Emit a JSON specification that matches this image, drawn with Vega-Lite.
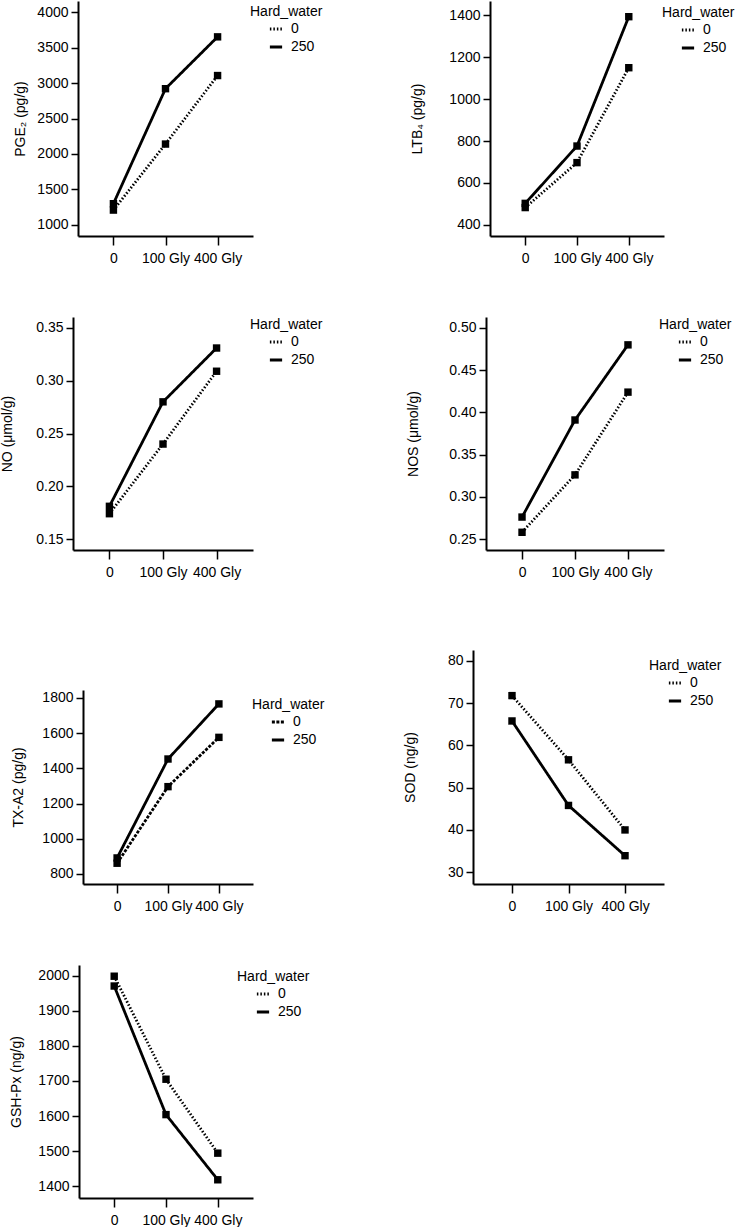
{
  "$schema": "https://vega.github.io/schema/vega-lite/v6.json",
  "padding": {"left": 0, "top": 1, "right": 0, "bottom": 0},
  "background": "white",
  "data": {"values": [
    {"panel": "PGE2", "dose": "0", "hw": "0", "value": 1210},
    {"panel": "PGE2", "dose": "100 Gly", "hw": "0", "value": 2140},
    {"panel": "PGE2", "dose": "400 Gly", "hw": "0", "value": 3105},
    {"panel": "PGE2", "dose": "0", "hw": "250", "value": 1300},
    {"panel": "PGE2", "dose": "100 Gly", "hw": "250", "value": 2920},
    {"panel": "PGE2", "dose": "400 Gly", "hw": "250", "value": 3650},
    {"panel": "LTB4", "dose": "0", "hw": "0", "value": 483},
    {"panel": "LTB4", "dose": "100 Gly", "hw": "0", "value": 697},
    {"panel": "LTB4", "dose": "400 Gly", "hw": "0", "value": 1149},
    {"panel": "LTB4", "dose": "0", "hw": "250", "value": 503},
    {"panel": "LTB4", "dose": "100 Gly", "hw": "250", "value": 776},
    {"panel": "LTB4", "dose": "400 Gly", "hw": "250", "value": 1392},
    {"panel": "NO", "dose": "0", "hw": "0", "value": 0.174},
    {"panel": "NO", "dose": "100 Gly", "hw": "0", "value": 0.240},
    {"panel": "NO", "dose": "400 Gly", "hw": "0", "value": 0.309},
    {"panel": "NO", "dose": "0", "hw": "250", "value": 0.181},
    {"panel": "NO", "dose": "100 Gly", "hw": "250", "value": 0.280},
    {"panel": "NO", "dose": "400 Gly", "hw": "250", "value": 0.331},
    {"panel": "NOS", "dose": "0", "hw": "0", "value": 0.258},
    {"panel": "NOS", "dose": "100 Gly", "hw": "0", "value": 0.326},
    {"panel": "NOS", "dose": "400 Gly", "hw": "0", "value": 0.424},
    {"panel": "NOS", "dose": "0", "hw": "250", "value": 0.276},
    {"panel": "NOS", "dose": "100 Gly", "hw": "250", "value": 0.391},
    {"panel": "NOS", "dose": "400 Gly", "hw": "250", "value": 0.480},
    {"panel": "TXA2", "dose": "0", "hw": "0", "value": 861},
    {"panel": "TXA2", "dose": "100 Gly", "hw": "0", "value": 1296},
    {"panel": "TXA2", "dose": "400 Gly", "hw": "0", "value": 1576},
    {"panel": "TXA2", "dose": "0", "hw": "250", "value": 891},
    {"panel": "TXA2", "dose": "100 Gly", "hw": "250", "value": 1453},
    {"panel": "TXA2", "dose": "400 Gly", "hw": "250", "value": 1766},
    {"panel": "SOD", "dose": "0", "hw": "0", "value": 71.8},
    {"panel": "SOD", "dose": "100 Gly", "hw": "0", "value": 56.6},
    {"panel": "SOD", "dose": "400 Gly", "hw": "0", "value": 40.0},
    {"panel": "SOD", "dose": "0", "hw": "250", "value": 65.8},
    {"panel": "SOD", "dose": "100 Gly", "hw": "250", "value": 45.8},
    {"panel": "SOD", "dose": "400 Gly", "hw": "250", "value": 33.9},
    {"panel": "GSH", "dose": "0", "hw": "0", "value": 1999},
    {"panel": "GSH", "dose": "100 Gly", "hw": "0", "value": 1705},
    {"panel": "GSH", "dose": "400 Gly", "hw": "0", "value": 1494},
    {"panel": "GSH", "dose": "0", "hw": "250", "value": 1971},
    {"panel": "GSH", "dose": "100 Gly", "hw": "250", "value": 1604},
    {"panel": "GSH", "dose": "400 Gly", "hw": "250", "value": 1418}
  ]},
  "spacing": 78,
  "resolve": {"scale": {"strokeDash": "independent", "x": "independent", "y": "independent"}, "legend": {"strokeDash": "independent"}},
  "hconcat": [
    {
      "spacing": 52,
      "align": "none",
      "resolve": {"scale": {"strokeDash": "independent", "x": "independent", "y": "independent"}, "legend": {"strokeDash": "independent"}},
      "vconcat": [
        {
          "width": 175, "height": 235,
          "transform": [{"filter": "datum.panel === 'PGE2'"}],
          "encoding": {
            "x": {"field": "dose", "type": "nominal", "sort": ["0", "100 Gly", "400 Gly"], "scale": {"type": "point", "padding": 0.68}, "axis": {"title": null, "labelAngle": 0, "tickSize": 9, "labelPadding": 6}},
            "y": {"field": "value", "type": "quantitative", "scale": {"domain": [845, 4155], "nice": false, "zero": false}, "axis": {"title": "PGE₂ (pg/g)", "values": [1000, 1500, 2000, 2500, 3000, 3500, 4000], "format": "d", "titlePadding": 9}}
          },
          "layer": [
            {"mark": {"type": "line", "color": "black", "strokeWidth": 2.8},
             "encoding": {"strokeDash": {"field": "hw", "type": "nominal", "title": "Hard_water", "scale": {"domain": ["0", "250"], "range": [[1.5, 2], [1, 0]]}, "legend": {"legendX": 172, "legendY": 4}}}},
            {"mark": {"type": "point", "shape": "square", "filled": true, "color": "black", "size": 55, "opacity": 1}}
          ]
        },
        {
          "width": 175, "height": 233,
          "transform": [{"filter": "datum.panel === 'NO'"}],
          "encoding": {
            "x": {"field": "dose", "type": "nominal", "sort": ["0", "100 Gly", "400 Gly"], "scale": {"type": "point", "padding": 0.68, "range": [-5, 175]}, "axis": {"title": null, "labelAngle": 0, "tickSize": 9, "labelPadding": 6}},
            "y": {"field": "value", "type": "quantitative", "scale": {"domain": [0.1396, 0.3604], "nice": false, "zero": false}, "axis": {"title": "NO (μmol/g)", "values": [0.15, 0.2, 0.25, 0.3, 0.35], "format": ".2f", "titlePadding": 21, "offset": 5}}
          },
          "layer": [
            {"mark": {"type": "line", "color": "black", "strokeWidth": 2.8},
             "encoding": {"strokeDash": {"field": "hw", "type": "nominal", "title": "Hard_water", "scale": {"domain": ["0", "250"], "range": [[1.5, 2], [1, 0]]}, "legend": {"legendX": 172, "legendY": 1}}}},
            {"mark": {"type": "point", "shape": "square", "filled": true, "color": "black", "size": 55, "opacity": 1}}
          ]
        },
        {
          "width": 175, "height": 194,
          "title": {"text": " ", "fontSize": 1, "offset": 58},
          "transform": [{"filter": "datum.panel === 'TXA2'"}],
          "encoding": {
            "x": {"field": "dose", "type": "nominal", "sort": ["0", "100 Gly", "400 Gly"], "scale": {"type": "point", "padding": 0.67, "range": [5, 175]}, "axis": {"title": null, "labelAngle": 0, "tickSize": 9, "labelPadding": 6}},
            "y": {"field": "value", "type": "quantitative", "scale": {"domain": [743, 1845], "nice": false, "zero": false}, "axis": {"title": "TX-A2 (pg/g)", "values": [800, 1000, 1200, 1400, 1600, 1800], "format": "d", "titlePadding": 16, "offset": -5}}
          },
          "layer": [
            {"mark": {"type": "line", "color": "black", "strokeWidth": 2.8},
             "encoding": {"strokeDash": {"field": "hw", "type": "nominal", "title": "Hard_water", "scale": {"domain": ["0", "250"], "range": [[3, 1.5], [1, 0]]}, "legend": {"legendX": 174, "legendY": 8}}}},
            {"mark": {"type": "point", "shape": "square", "filled": true, "color": "black", "size": 55, "opacity": 1}}
          ]
        },
        {
          "width": 175, "height": 233,
          "transform": [{"filter": "datum.panel === 'GSH'"}],
          "encoding": {
            "x": {"field": "dose", "type": "nominal", "sort": ["0", "100 Gly", "400 Gly"], "scale": {"type": "point", "padding": 0.68, "range": [1, 175]}, "axis": {"title": null, "labelAngle": 0, "tickSize": 9, "labelPadding": 6}},
            "y": {"field": "value", "type": "quantitative", "scale": {"domain": [1366, 2031], "nice": false, "zero": false}, "axis": {"title": "GSH-Px (ng/g)", "values": [1400, 1500, 1600, 1700, 1800, 1900, 2000], "format": "d", "titlePadding": 14, "offset": -1}}
          },
          "layer": [
            {"mark": {"type": "line", "color": "black", "strokeWidth": 2.8},
             "encoding": {"strokeDash": {"field": "hw", "type": "nominal", "title": "Hard_water", "scale": {"domain": ["0", "250"], "range": [[1.5, 2], [1, 0]]}, "legend": {"legendX": 159, "legendY": 5}}}},
            {"mark": {"type": "point", "shape": "square", "filled": true, "color": "black", "size": 55, "opacity": 1}}
          ]
        }
      ]
    },
    {
      "spacing": 52,
      "align": "none",
      "resolve": {"scale": {"strokeDash": "independent", "x": "independent", "y": "independent"}, "legend": {"strokeDash": "independent"}},
      "vconcat": [
        {
          "width": 178, "height": 235,
          "transform": [{"filter": "datum.panel === 'LTB4'"}],
          "encoding": {
            "x": {"field": "dose", "type": "nominal", "sort": ["0", "100 Gly", "400 Gly"], "scale": {"type": "point", "padding": 0.68, "range": [4, 178]}, "axis": {"title": null, "labelAngle": 0, "tickSize": 9, "labelPadding": 6}},
            "y": {"field": "value", "type": "quantitative", "scale": {"domain": [347.6, 1466.7], "nice": false, "zero": false}, "axis": {"title": "LTB₄ (pg/g)", "values": [400, 600, 800, 1000, 1200, 1400], "format": "d", "titlePadding": 24, "offset": -4}}
          },
          "layer": [
            {"mark": {"type": "line", "color": "black", "strokeWidth": 2.8},
             "encoding": {"strokeDash": {"field": "hw", "type": "nominal", "title": "Hard_water", "scale": {"domain": ["0", "250"], "range": [[1.5, 2], [1, 0]]}, "legend": {"legendX": 176, "legendY": 5}}}},
            {"mark": {"type": "point", "shape": "square", "filled": true, "color": "black", "size": 55, "opacity": 1}}
          ]
        },
        {
          "width": 178, "height": 233,
          "transform": [{"filter": "datum.panel === 'NOS'"}],
          "encoding": {
            "x": {"field": "dose", "type": "nominal", "sort": ["0", "100 Gly", "400 Gly"], "scale": {"type": "point", "padding": 0.68}, "axis": {"title": null, "labelAngle": 0, "tickSize": 9, "labelPadding": 6}},
            "y": {"field": "value", "type": "quantitative", "scale": {"domain": [0.237, 0.513], "nice": false, "zero": false}, "axis": {"title": "NOS (μmol/g)", "values": [0.25, 0.3, 0.35, 0.4, 0.45, 0.5], "format": ".2f", "titlePadding": 28}}
          },
          "layer": [
            {"mark": {"type": "line", "color": "black", "strokeWidth": 2.8},
             "encoding": {"strokeDash": {"field": "hw", "type": "nominal", "title": "Hard_water", "scale": {"domain": ["0", "250"], "range": [[1.5, 2], [1, 0]]}, "legend": {"legendX": 173, "legendY": 1}}}},
            {"mark": {"type": "point", "shape": "square", "filled": true, "color": "black", "size": 55, "opacity": 1}}
          ]
        },
        {
          "width": 178, "height": 234,
          "title": {"text": " ", "fontSize": 1, "offset": 18},
          "transform": [{"filter": "datum.panel === 'SOD'"}],
          "encoding": {
            "x": {"field": "dose", "type": "nominal", "sort": ["0", "100 Gly", "400 Gly"], "scale": {"type": "point", "padding": 0.69, "range": [-13, 178]}, "axis": {"title": null, "labelAngle": 0, "tickSize": 9, "labelPadding": 6}},
            "y": {"field": "value", "type": "quantitative", "scale": {"domain": [27.2, 82.6], "nice": false, "zero": false}, "axis": {"title": "SOD (ng/g)", "values": [30, 40, 50, 60, 70, 80], "titlePadding": 30, "offset": 13}}
          },
          "layer": [
            {"mark": {"type": "line", "color": "black", "strokeWidth": 2.8},
             "encoding": {"strokeDash": {"field": "hw", "type": "nominal", "title": "Hard_water", "scale": {"domain": ["0", "250"], "range": [[1.5, 2], [1, 0]]}, "legend": {"legendX": 163, "legendY": 9}}}},
            {"mark": {"type": "point", "shape": "square", "filled": true, "color": "black", "size": 55, "opacity": 1}}
          ]
        }
      ]
    }
  ],
  "config": {
    "font": "Liberation Sans",
    "view": {"stroke": null},
    "axis": {
      "labelFont": "Liberation Sans", "labelFontSize": 14, "labelColor": "black",
      "titleFont": "Liberation Sans", "titleFontSize": 14, "titleFontWeight": "normal", "titleColor": "black",
      "domainColor": "black", "domainWidth": 2, "tickColor": "black", "tickWidth": 1.5, "tickSize": 7,
      "labelPadding": 3, "grid": false
    },
    "legend": {
      "orient": "none",
      "titleFont": "Liberation Sans", "titleFontSize": 14, "titleFontWeight": "normal", "titleColor": "black",
      "labelFont": "Liberation Sans", "labelFontSize": 14, "labelColor": "black",
      "symbolType": "stroke", "symbolStrokeColor": "black", "symbolStrokeWidth": 3, "symbolSize": 150,
      "symbolOffset": 18, "labelOffset": 7, "rowPadding": 3, "titlePadding": 2
    }
  }
}
